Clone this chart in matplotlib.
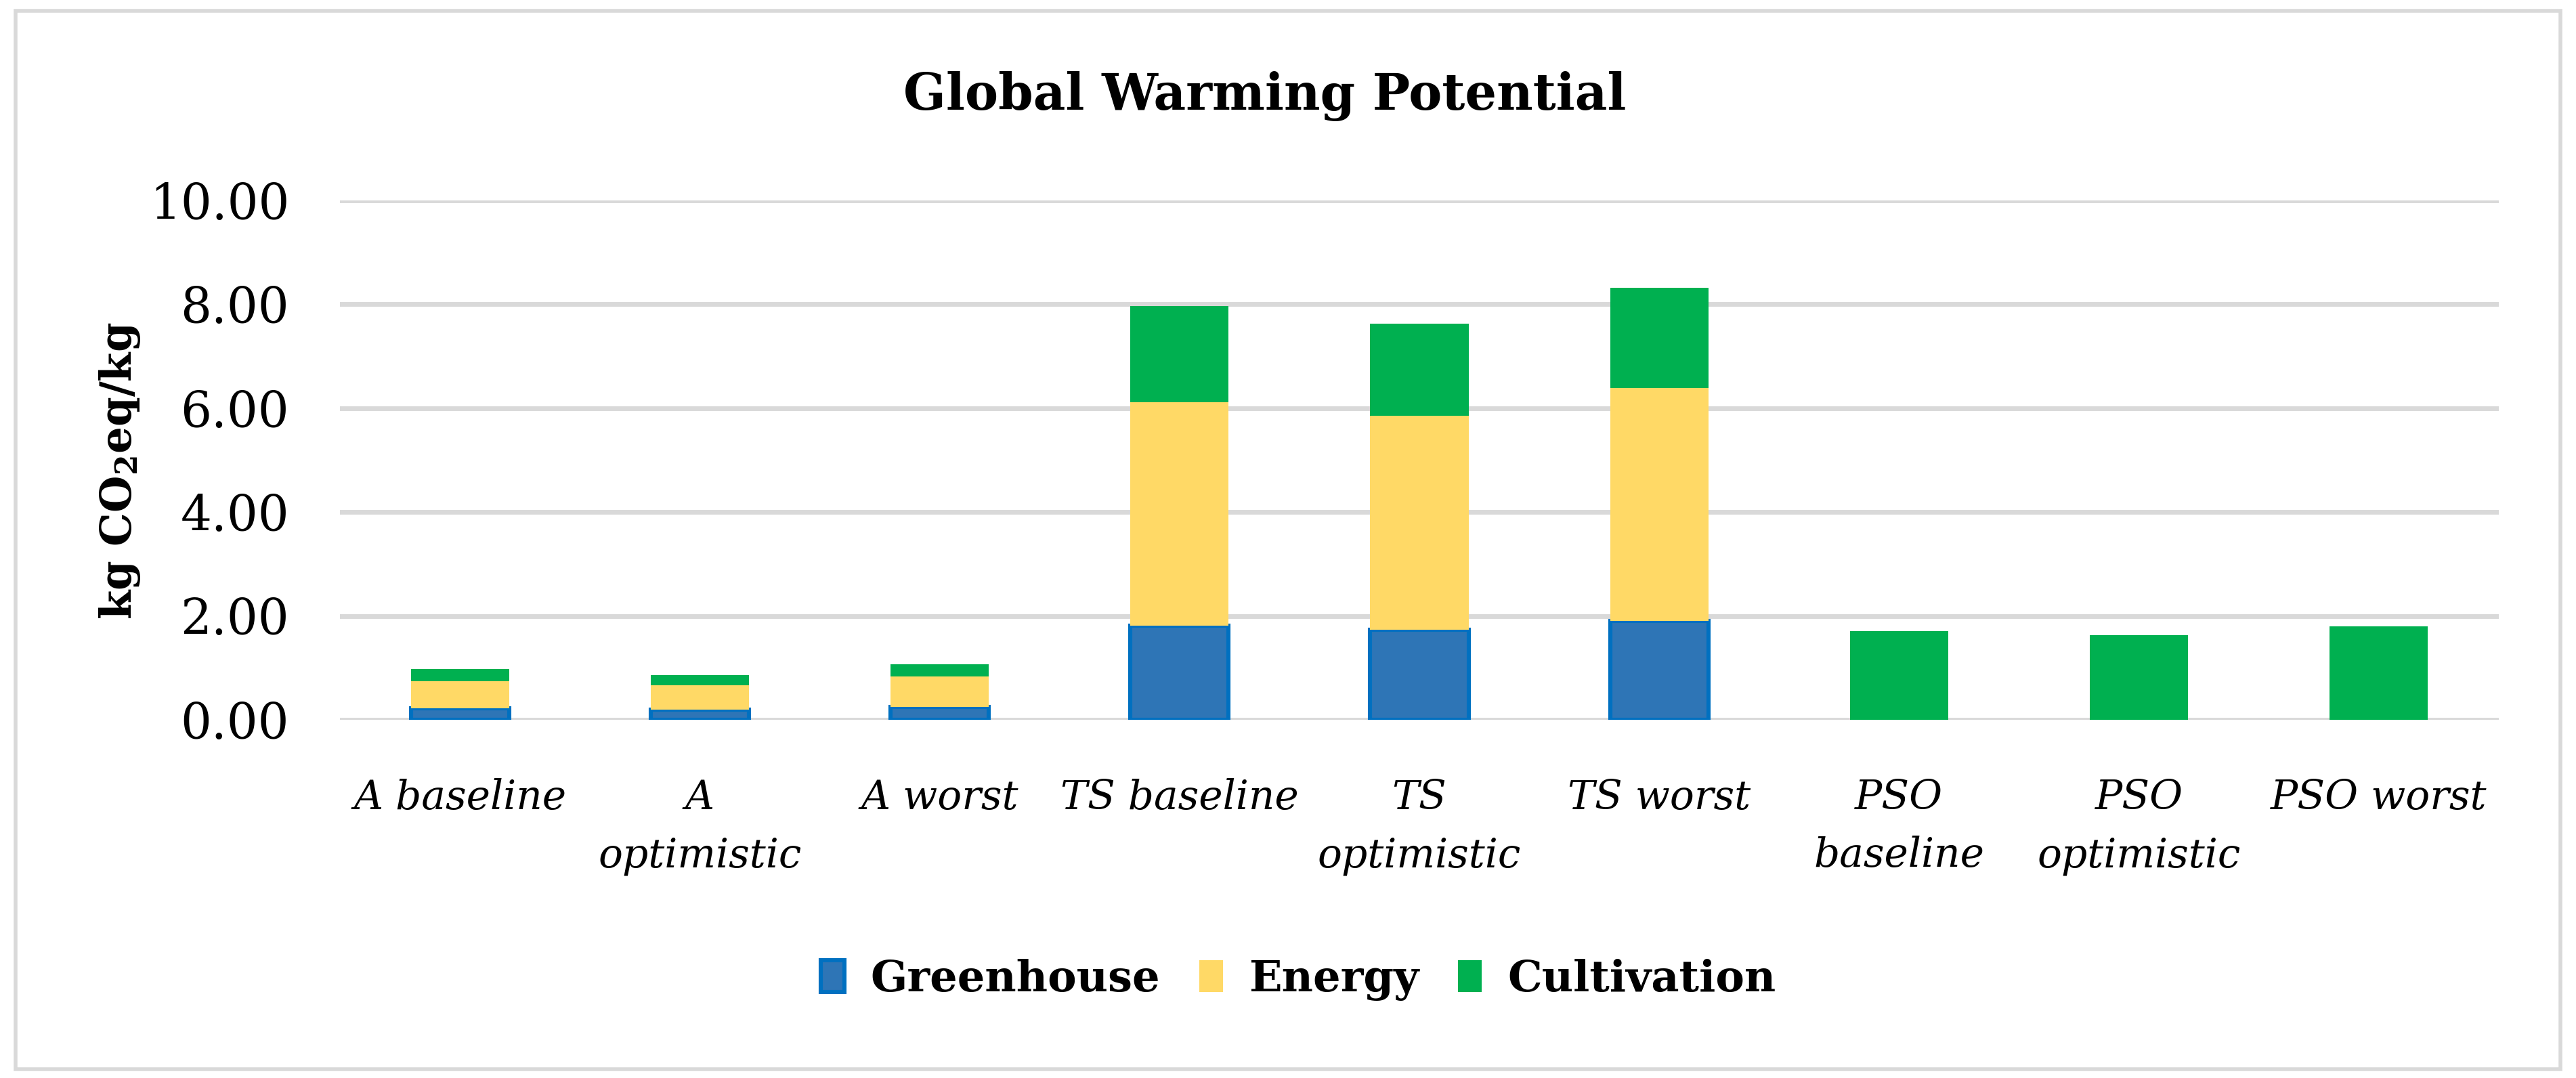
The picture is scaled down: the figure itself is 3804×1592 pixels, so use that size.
import numpy as np
import matplotlib
matplotlib.use("Agg")
import matplotlib.pyplot as plt
from matplotlib.patches import Rectangle

# --- datos ---
categorias = ["A baseline", "A\noptimistic", "A worst", "TS baseline", "TS\noptimistic",
              "TS worst", "PSO\nbaseline", "PSO\noptimistic", "PSO worst"]
greenhouse = np.array([0.22, 0.20, 0.25, 1.81, 1.73, 1.90, 0.0, 0.0, 0.0])
energy = np.array([0.52, 0.46, 0.59, 4.30, 4.12, 4.49, 0.0, 0.0, 0.0])
cultivation = np.array([0.24, 0.20, 0.23, 1.86, 1.78, 1.93, 1.71, 1.63, 1.80])

C_BLUE = "#2E75B6"
C_BLUE_EDGE = "#0070C0"
C_YELLOW = "#FFD966"
C_GREEN = "#00B050"
C_GRID = "#D9D9D9"

plt.rcParams["font.family"] = ["DejaVu Serif"]
plt.rcParams["mathtext.fontset"] = "dejavuserif"

fig = plt.figure(figsize=(19.02, 7.96), dpi=200)
ax = fig.add_axes([0.132, 0.3323, 0.838, 0.4818])

x = np.arange(len(categorias))
w = 0.41

# barras apiladas (los ceros no se dibujan)
gh = np.where(greenhouse > 0, greenhouse, np.nan)
en = np.where(energy > 0, energy, np.nan)
ax.bar(x, gh, w, color=C_BLUE, edgecolor=C_BLUE_EDGE, linewidth=2.2,
       label="Greenhouse", zorder=3)
ax.bar(x, en, w, bottom=greenhouse, color=C_YELLOW, linewidth=0,
       label="Energy", zorder=3)
ax.bar(x, cultivation, w, bottom=greenhouse + energy, color=C_GREEN, linewidth=0,
       label="Cultivation", zorder=3)

ax.set_xlim(-0.5, len(categorias) - 0.5)
ax.set_ylim(0, 10)
ax.set_yticks(np.arange(0, 10.01, 2))
ax.set_yticklabels([f"{v:.2f}" for v in np.arange(0, 10.01, 2)], fontsize=26)
ax.set_xticks(x)
ax.set_xticklabels(categorias, fontsize=21.5, style="italic", linespacing=1.58, va="top")
ax.tick_params(axis="both", length=0)
ax.tick_params(axis="y", pad=27)
ax.tick_params(axis="x", pad=31)
ax.yaxis.grid(True, color=C_GRID, linewidth=2.5, zorder=0)
ax.set_axisbelow(True)
for s in ax.spines.values():
    s.set_visible(False)

fig.text(0.491, 0.911, "Global Warming Potential", fontsize=26.5, fontweight="bold",
         ha="center", va="center")
fig.text(0.0465, 0.563, r"kg CO$_{\mathbf{2}}$eq/kg", fontsize=22.5, fontweight="bold",
         rotation=90, ha="center", va="center")

fig.legend(loc="center", bbox_to_anchor=(0.504, 0.091), ncol=3, frameon=False,
           prop={"weight": "bold", "size": 23}, handlelength=0.55, handleheight=0.75,
           handletextpad=0.6, columnspacing=0.9)

# marco exterior gris
fig.patches.append(Rectangle((0.006, 0.008), 0.988, 0.982, transform=fig.transFigure,
                             fill=False, edgecolor=C_GRID, linewidth=2.0))

fig.savefig("out.png", dpi=200)
